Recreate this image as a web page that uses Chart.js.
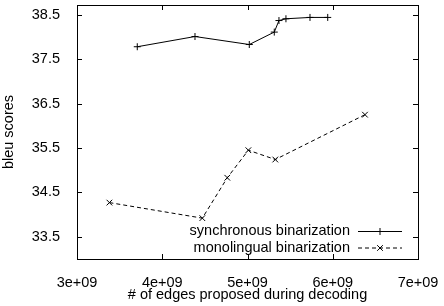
<!DOCTYPE html>
<html>
<head>
<meta charset="utf-8">
<script src="https://cdn.jsdelivr.net/npm/chart.js@4/dist/chart.umd.min.js"></script>
<style>
  html, body { margin: 0; padding: 0; background: #fff; }
  #wrap { width: 444px; height: 306px; }
</style>
</head>
<body>
<div id="wrap"><canvas id="bleuChart" width="444" height="306"></canvas></div>
<script>
// values
const syncEdges = [3.707e9, 4.384e9, 5.021e9, 5.314e9, 5.369e9, 5.451e9, 5.733e9, 5.941e9];
const syncBleu = [37.78, 38.01, 37.83, 38.11, 38.37, 38.41, 38.44, 38.44];
const monoEdges = [3.38e9, 4.47e9, 4.763e9, 5.01e9, 5.326e9, 6.378e9];
const monoBleu = [34.27, 33.92, 34.83, 35.45, 35.24, 36.25];

const xTicks = [3e9, 4e9, 5e9, 6e9, 7e9];
const yTicks = [33.5, 34.5, 35.5, 36.5, 37.5, 38.5];

const FONT = "'Liberation Sans', Arial, sans-serif";

function toPoints(xs, ys) {
    return xs.map((x, i) => ({ x: x, y: ys[i] }));
}

/*////////////////////////////// frame + inward ticks //////////////////////////////////*/
const framePlugin = {
    id: 'frame',
    afterDraw(chart) {
        const ctx = chart.ctx;
        const a = chart.chartArea;
        const xs = chart.scales.x, ys = chart.scales.y;
        const len = 5;
        ctx.save();
        ctx.strokeStyle = '#000';
        ctx.lineWidth = 1;
        ctx.beginPath();
        xTicks.forEach(v => {
            const px = Math.round(xs.getPixelForValue(v)) + 0.5;
            ctx.moveTo(px, a.bottom); ctx.lineTo(px, a.bottom - len);
            ctx.moveTo(px, a.top); ctx.lineTo(px, a.top + len);
        });
        yTicks.forEach(v => {
            const py = Math.round(ys.getPixelForValue(v)) + 0.5;
            ctx.moveTo(a.left, py); ctx.lineTo(a.left + len, py);
            ctx.moveTo(a.right, py); ctx.lineTo(a.right - len, py);
        });
        ctx.stroke();
        ctx.strokeRect(Math.round(a.left) + 0.5, Math.round(a.top) + 0.5,
            Math.round(a.right - a.left), Math.round(a.bottom - a.top));
        ctx.restore();
    }
};

/*////////////////////////////// gnuplot style key //////////////////////////////////*/
const keyPlugin = {
    id: 'key',
    afterDraw(chart) {
        const ctx = chart.ctx;
        const a = chart.chartArea;
        const textRight = a.right - 68;
        const lineStart = a.right - 60;
        const lineEnd = a.right - 16;
        let rowY = a.bottom - 28;
        ctx.save();
        chart.data.datasets.forEach(ds => {
            ctx.font = '14.5px ' + FONT;
            ctx.fillStyle = '#000';
            ctx.textAlign = 'right';
            ctx.textBaseline = 'middle';
            ctx.fillText(ds.label, textRight, rowY);
            ctx.strokeStyle = ds.borderColor;
            ctx.lineWidth = ds.borderWidth;
            ctx.setLineDash(ds.borderDash || []);
            ctx.beginPath();
            ctx.moveTo(lineStart, rowY + 0.5);
            ctx.lineTo(lineEnd, rowY + 0.5);
            ctx.stroke();
            ctx.setLineDash([]);
            Chart.helpers.drawPoint(ctx, {
                pointStyle: ds.pointStyle,
                radius: ds.pointRadius,
                rotation: 0,
                borderWidth: 1
            }, (lineStart + lineEnd) / 2, rowY + 0.5);
            rowY += 16.5;
        });
        ctx.restore();
    }
};

const ctx = document.getElementById('bleuChart').getContext('2d');
new Chart(ctx, {
    type: 'scatter',
    data: {
        datasets: [{
            label: 'synchronous binarization',
            data: toPoints(syncEdges, syncBleu),
            showLine: true,
            borderColor: '#000',
            backgroundColor: '#000',
            borderWidth: 1,
            pointStyle: 'cross',
            pointRadius: 3.5,
            pointBorderWidth: 1
        }, {
            label: 'monolingual binarization',
            data: toPoints(monoEdges, monoBleu),
            showLine: true,
            borderColor: '#000',
            backgroundColor: '#000',
            borderWidth: 1,
            borderDash: [4, 3],
            pointStyle: 'crossRot',
            pointRadius: 4,
            pointBorderWidth: 1
        }]
    },
    options: {
        responsive: false,
        animation: false,
        layout: { padding: { left: 0, right: 26, top: 5, bottom: 0 } },
        plugins: {
            legend: { display: false },
            tooltip: { enabled: false }
        },
        scales: {
            x: {
                type: 'linear',
                min: 3e9,
                max: 7e9,
                afterBuildTicks: scale => { scale.ticks = xTicks.map(v => ({ value: v })); },
                afterFit: scale => {
                    scale.height = 47;
                    scale.paddingLeft = 0;
                    scale.paddingRight = 0;
                },
                grid: { display: false },
                border: { display: false },
                ticks: {
                    padding: 7,
                    color: '#000',
                    font: { family: FONT, size: 14.5 },
                    maxRotation: 0,
                    callback: v => (v / 1e9) + 'e+09'
                },
                title: {
                    display: true,
                    text: '# of edges proposed during decoding',
                    color: '#000',
                    font: { family: FONT, size: 14.5 },
                    padding: { top: 0, bottom: 2 }
                }
            },
            y: {
                type: 'linear',
                min: 33,
                max: 38.72,
                afterBuildTicks: scale => { scale.ticks = yTicks.map(v => ({ value: v })); },
                afterFit: scale => {
                    scale.width = 77;
                    scale.paddingTop = 0;
                    scale.paddingBottom = 0;
                },
                grid: { display: false },
                border: { display: false },
                ticks: {
                    padding: 9,
                    color: '#000',
                    font: { family: FONT, size: 14.5 },
                    callback: v => v.toFixed(1)
                },
                title: {
                    display: true,
                    text: 'bleu scores',
                    color: '#000',
                    font: { family: FONT, size: 14.5 },
                    padding: 0
                }
            }
        }
    },
    plugins: [framePlugin, keyPlugin]
});
</script>
</body>
</html>
